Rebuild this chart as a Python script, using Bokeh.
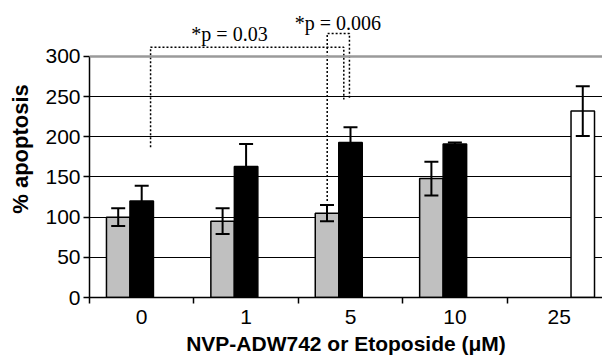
from bokeh.plotting import figure
from bokeh.models import FixedTicker, Span, Range1d
from bokeh.core.properties import value
from bokeh.embed import file_html
from bokeh.resources import INLINE

# ---- data ----
categories = ["0", "1", "5", "10", "25"]
gray_vals = [100, 95, 105, 148, None]
gray_err = [11, 16, 10, 21, None]
black_vals = [120, 163, 193, 191, None]
black_err = [19, 28, 19, 2, None]
white_vals = [None, None, None, None, 232]
white_err = [None, None, None, None, 31]
y_ticks = [0, 50, 100, 150, 200, 250, 300]

# significance brackets (data coordinates): legs x, bar-side ends, level
p_labels = ["*p = 0.03", "*p = 0.006"]
bracket_x = [[0.585, 2.436], [2.277, 2.49]]
bracket_ends = [[187, 246.5], [120, 246.5]]
bracket_level = [311.6, 328.6]
label_x = [1.341, 2.38]
label_y = [328.5, 342.0]

p = figure(width=602, height=358, output_backend="svg", toolbar_location=None,
           x_range=Range1d(0, 4.914), y_range=Range1d(0, 369.7))
p.min_border_top = 0
p.min_border_right = 0
p.min_border_left = 89
p.min_border_bottom = 61
p.outline_line_color = None
p.background_fill_color = "white"

# grid
p.xgrid.visible = False
p.ygrid.ticker = FixedTicker(ticks=[50, 100, 150, 200, 250])
p.ygrid.grid_line_color = "black"
p.ygrid.grid_line_width = 1
p.add_layout(Span(location=300, dimension="width", line_color="#9a9a9a", line_width=2.5))

# bars
width = 0.225
series = [
    (gray_vals, gray_err, "#c0c0c0", -0.225),
    (black_vals, black_err, "black", 0.0),
    (white_vals, white_err, "white", 0.225),
]
cap = 0.067
for vals, errs, color, off in series:
    xs, tops, es = [], [], []
    for i, (v, e) in enumerate(zip(vals, errs)):
        if v is None:
            continue
        xs.append(i + 0.5 + off)
        tops.append(v)
        es.append(e)
    p.vbar(x=xs, top=tops, bottom=0, width=width, fill_color=color,
           line_color="black", line_width=1.5)
    lo = [t - e for t, e in zip(tops, es)]
    hi = [t + e for t, e in zip(tops, es)]
    p.segment(x0=xs, y0=lo, x1=xs, y1=hi, line_color="black", line_width=2)
    p.segment(x0=[x - cap for x in xs], y0=hi, x1=[x + cap for x in xs], y1=hi,
              line_color="black", line_width=2)
    p.segment(x0=[x - cap for x in xs], y0=lo, x1=[x + cap for x in xs], y1=lo,
              line_color="black", line_width=2)

# brackets
mx, my = [], []
for (xa, xb), (ea, eb), lvl in zip(bracket_x, bracket_ends, bracket_level):
    mx.append([xa, xa, xb, xb])
    my.append([ea, lvl, lvl, eb])
p.multi_line(xs=mx, ys=my, line_color="black", line_width=1.5, line_dash="2 2")
p.text(x=label_x, y=label_y, text=p_labels, text_font=value("Liberation Serif"),
       text_font_size="20px", text_align="center", text_baseline="alphabetic",
       text_color="black")

# axes
font = "Liberation Sans"
ya = p.yaxis[0]
ya.ticker = FixedTicker(ticks=y_ticks)
ya.bounds = (0, 300)
ya.major_tick_out = 6
ya.major_tick_in = 0
ya.minor_tick_out = 0
ya.minor_tick_in = 0
ya.major_label_standoff = 3
ya.axis_line_width = 1.5
ya.major_tick_line_width = 1.5
ya.axis_label = "% apoptosis"
ya.axis_label_text_font = font
ya.axis_label_text_font_style = "bold"
ya.axis_label_text_font_size = "22px"
ya.axis_label_standoff = 9
ya.major_label_text_font = font
ya.major_label_text_font_size = "21px"
ya.major_label_text_color = "black"
ya.axis_label_text_color = "black"

xa_ = p.xaxis[0]
xa_.ticker = FixedTicker(ticks=[i + 0.5 for i in range(len(categories))],
                         minor_ticks=list(range(len(categories))))
xa_.major_label_overrides = {i + 0.5: c for i, c in enumerate(categories)}
xa_.major_tick_out = 0
xa_.major_tick_in = 0
xa_.minor_tick_out = 6
xa_.minor_tick_in = 0
xa_.minor_tick_line_width = 1.5
xa_.axis_line_width = 1.5
xa_.major_label_standoff = 6
xa_.major_label_text_font = font
xa_.major_label_text_font_size = "21px"
xa_.major_label_text_color = "black"
xa_.axis_label = "NVP-ADW742 or Etoposide (\u03bcM)"
xa_.axis_label_text_font = font
xa_.axis_label_text_font_style = "bold"
xa_.axis_label_text_font_size = "21px"
xa_.axis_label_standoff = 5
xa_.axis_label_text_color = "black"

open("out.html", "w").write(file_html(p, INLINE))
